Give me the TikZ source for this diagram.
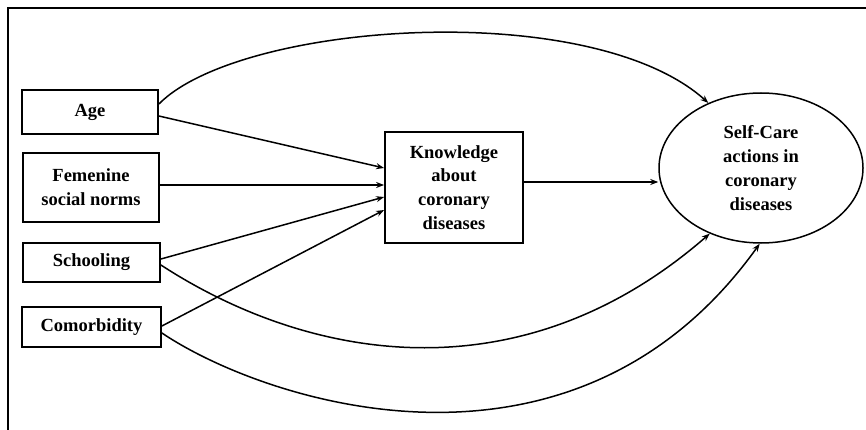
\documentclass[tikz,border=0pt]{standalone}
\usepackage{fontspec}
\setmainfont{Liberation Serif}
\usetikzlibrary{shapes.geometric,arrows.meta}
\begin{document}
\begin{tikzpicture}[x=1pt,y=-1pt,
  box/.style={draw, line width=1.8pt, inner sep=0pt, align=center,
    font=\fontsize{18.5}{23.8}\selectfont\bfseries},
  oval/.style={draw, ellipse, line width=1.5pt, inner sep=0pt, align=center,
    minimum width=204pt, minimum height=150pt,
    font=\fontsize{18.5}{23.8}\selectfont\bfseries},
  arr/.style={line width=1.5pt, -{Stealth[length=8pt,width=6pt]}},
  frame/.style={line width=2.5pt}]
\useasboundingbox (0,0) rectangle (866,430);
\coordinate (ftr) at (866,8);
\coordinate (ftl) at (8,8);
\coordinate (fbl) at (8,430);
\draw[frame] (ftr) -- (ftl) -- (fbl);

\node[box, minimum width=136pt, minimum height=44pt] (age) at (90,112) {Age};
\node[box, minimum width=136pt, minimum height=69pt] (fem) at (91,187.5) {Femenine\\social norms};
\node[box, minimum width=137pt, minimum height=39pt] (sch) at (91.5,262.5) {Schooling};
\node[box, minimum width=139pt, minimum height=40pt] (com) at (91.5,327) {Comorbidity};
\node[box, minimum width=138pt, minimum height=111pt] (kno) at (454,187.5) {Knowledge\\about\\coronary\\diseases};
\node[oval] (sc) at (761,168) {Self-Care\\actions in\\coronary\\diseases};

\draw[arr] ([yshift=-4pt]age.east) -- ([yshift=19.5pt]kno.west);
\draw[arr] ([yshift=2.5pt]fem.east) -- ([yshift=2.5pt]kno.west);
\draw[arr] ([yshift=3.5pt]sch.east) -- ([yshift=-9.5pt]kno.west);
\draw[arr] ([yshift=1pt]com.east) -- ([yshift=-22.5pt]kno.west);
\coordinate (kx) at ([yshift=5.5pt]kno.east);
\draw[arr] (kx) -- (kx -| sc.west);

\draw[arr] ([yshift=8pt]age.east) .. controls (240,22) and (590,-3) .. (sc.129);
\draw[arr] ([yshift=-2.5pt]sch.east) .. controls (310,362) and (521,398) .. (sc.232);
\draw[arr] ([yshift=-6pt]com.east) .. controls (266,403) and (574,503) .. (sc.269);
\end{tikzpicture}
\end{document}
